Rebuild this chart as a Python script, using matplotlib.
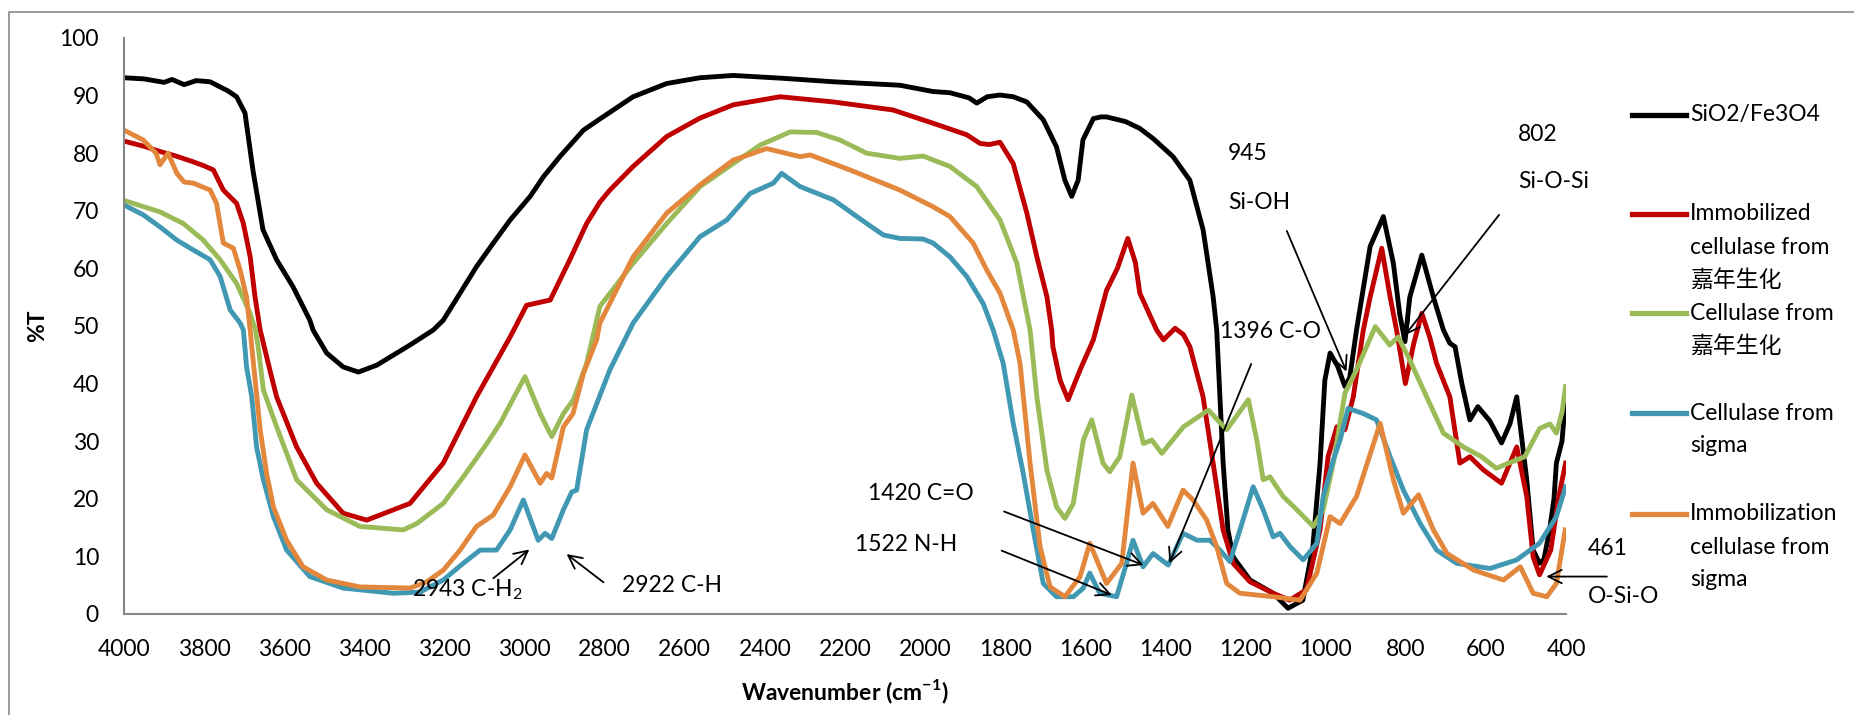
import matplotlib
matplotlib.use("Agg")
import matplotlib.pyplot as plt
from matplotlib.lines import Line2D
from matplotlib.patches import Rectangle

plt.rcParams['font.family'] = ['Lato', 'Noto Sans CJK SC', 'DejaVu Sans']
plt.rcParams['mathtext.fontset'] = 'custom'
plt.rcParams['mathtext.rm'] = 'Lato'
plt.rcParams['mathtext.bf'] = 'Lato:bold'

# ---- data (wavenumber cm-1, %T) ----
w_sio2 = [4000, 3950, 3900, 3880, 3850, 3820, 3785, 3760, 3740, 3719, 3698, 3678, 3653, 3619,
          3578, 3536, 3528, 3494, 3453, 3415, 3369, 3286, 3228, 3203, 3161, 3120, 3078, 3036,
          2986, 2953, 2912, 2853, 2800, 2729, 2645, 2562, 2479, 2354, 2229, 2063, 1980, 1938,
          1890, 1871, 1845, 1813, 1780, 1746, 1705, 1672, 1651, 1634, 1618, 1606, 1580, 1561,
          1547, 1500, 1464, 1430, 1381, 1339, 1306, 1281, 1272, 1264, 1256, 1244, 1231, 1189,
          1131, 1094, 1057, 1032, 1014, 1002, 989, 970, 952, 940, 923, 889, 856, 831, 815,
          802, 790, 760, 731, 706, 690, 677, 660, 640, 620, 590, 561, 540, 523, 498, 482, 466,
          455, 441, 430, 424, 410, 402]
t_sio2 = [93.1, 92.9, 92.3, 92.8, 91.9, 92.6, 92.4, 91.5, 90.8, 89.8, 87.0, 77.0, 66.7, 61.5,
          56.8, 51.0, 49.3, 45.3, 42.9, 42.0, 43.2, 46.7, 49.3, 51.0, 55.7, 60.3, 64.4, 68.4,
          72.5, 75.9, 79.4, 84.0, 86.5, 89.8, 92.1, 93.1, 93.5, 93.0, 92.4, 91.8, 90.7, 90.5,
          89.6, 88.7, 89.8, 90.1, 89.8, 88.9, 85.8, 81.1, 75.3, 72.5, 75.3, 82.3, 86.0, 86.3,
          86.3, 85.5, 84.3, 82.5, 79.4, 75.3, 66.7, 55.1, 49.3, 37.7, 26.2, 14.6, 9.9, 5.9,
          3.6, 1.0, 2.4, 11.7, 26.2, 40.6, 45.3, 43.0, 39.5, 41.0, 49.3, 63.8, 69.0, 60.9, 52.0,
          47.3, 55.0, 62.3, 55.0, 49.3, 47.0, 46.4, 40.0, 33.7, 36.0, 33.5, 29.7, 33.0, 37.7,
          23.3, 11.1, 8.8, 9.5, 14.6, 20.0, 26.2, 30.0, 36.6]

w_imm_jn = [4000, 3950, 3910, 3870, 3827, 3800, 3777, 3752, 3719, 3702, 3685, 3673, 3660, 3636,
            3619, 3569, 3519, 3453, 3394, 3286, 3203, 3120, 3036, 2995, 2936, 2887, 2845, 2812,
            2787, 2729, 2645, 2562, 2479, 2362, 2229, 2080, 1980, 1896, 1863, 1840, 1813, 1780,
            1746, 1721, 1696, 1684, 1681, 1663, 1643, 1613, 1580, 1547, 1520, 1494, 1475, 1464,
            1422, 1405, 1376, 1355, 1339, 1306, 1281, 1256, 1231, 1189, 1131, 1090, 1048, 1014,
            994, 972, 952, 931, 906, 889, 860, 839, 823, 801, 780, 760, 740, 723, 690, 665, 640,
            606, 561, 523, 498, 482, 466, 438, 418, 401]
t_imm_jn = [82.1, 81.2, 80.3, 79.5, 78.5, 77.8, 77.1, 73.6, 71.3, 67.8, 62.0, 55.1, 49.3, 42.4,
            37.7, 29.0, 22.7, 17.5, 16.3, 19.2, 26.2, 37.7, 48.1, 53.6, 54.5, 61.5, 67.8, 71.5,
            73.6, 77.7, 82.9, 86.1, 88.4, 89.8, 88.9, 87.5, 85.2, 83.2, 81.7, 81.5, 81.9, 78.2,
            69.6, 62.0, 55.1, 49.3, 46.4, 40.6, 37.2, 42.4, 47.6, 56.2, 60.0, 65.2, 61.0, 55.7,
            49.3, 47.6, 49.6, 48.5, 46.4, 37.7, 26.2, 14.6, 8.8, 5.6, 3.6, 2.4, 4.2, 14.6,
            27.3, 32.5, 32.0, 37.7, 49.3, 55.0, 63.5, 55.0, 49.3, 40.0, 47.0, 52.2, 48.0, 43.5,
            37.7, 26.2, 27.3, 25.0, 22.7, 29.0, 20.4, 9.9, 6.8, 11.1, 20.4, 26.2]

w_cel_jn = [4000, 3910, 3852, 3802, 3760, 3719, 3685, 3672, 3665, 3652, 3619, 3569, 3494, 3411,
            3303, 3269, 3203, 3153, 3094, 3061, 2999, 2961, 2932, 2903, 2878, 2845, 2812, 2729,
            2645, 2562, 2479, 2412, 2337, 2271, 2213, 2146, 2063, 2005, 1938, 1871, 1813, 1771,
            1738, 1721, 1696, 1672, 1651, 1630, 1605, 1584, 1556, 1539, 1514, 1484, 1455, 1434,
            1409, 1355, 1293, 1247, 1193, 1172, 1156, 1139, 1106, 1072, 1031, 1006, 981, 952,
            923, 876, 840, 819, 790, 748, 706, 656, 611, 574, 536, 503, 466, 440, 424, 410, 401]
t_cel_jn = [71.8, 69.8, 67.8, 64.9, 61.5, 57.4, 52.2, 49.3, 46.4, 38.9, 32.5, 23.3, 18.1, 15.2,
            14.6, 15.7, 19.2, 23.8, 29.6, 33.1, 41.2, 34.8, 30.8, 34.8, 37.2, 43.5, 53.4, 60.9,
            67.8, 74.2, 78.2, 81.4, 83.7, 83.6, 82.3, 80.0, 79.1, 79.5, 77.7, 74.2, 68.4, 60.9,
            49.3, 37.7, 25.0, 18.6, 16.6, 19.2, 30.2, 33.7, 26.2, 24.7, 27.3, 38.0, 29.6, 30.2,
            27.9, 32.5, 35.4, 32.0, 37.2, 30.2, 23.3, 23.8, 20.4, 18.1, 15.2, 18.1, 26.2, 38.3,
            42.4, 49.9, 46.7, 48.1, 44.1, 37.7, 31.4, 29.0, 27.3, 25.3, 26.4, 27.3, 32.2, 33.0,
            31.4, 35.0, 39.5]

w_cel_sg = [4000, 3952, 3910, 3868, 3827, 3785, 3760, 3735, 3710, 3702, 3694, 3681, 3669, 3652,
            3627, 3594, 3536, 3453, 3328, 3261, 3203, 3153, 3111, 3070, 3036, 3003, 2966, 2949,
            2932, 2903, 2882, 2870, 2845, 2787, 2729, 2645, 2562, 2495, 2437, 2379, 2358, 2312,
            2229, 2146, 2104, 2063, 2005, 1980, 1938, 1896, 1855, 1830, 1805, 1780, 1755, 1730,
            1705, 1672, 1630, 1605, 1589, 1564, 1522, 1497, 1481, 1456, 1431, 1393, 1356, 1321,
            1289, 1264, 1239, 1214, 1181, 1156, 1131, 1114, 1089, 1056, 1022, 1006, 981, 964,
            944, 906, 873, 839, 806, 764, 723, 673, 590, 523, 466, 424, 401]
t_cel_sg = [71.0, 69.3, 67.2, 64.9, 63.2, 61.5, 58.6, 52.8, 50.5, 49.3, 42.9, 37.7, 29.0, 23.3,
            16.9, 11.1, 6.5, 4.5, 3.6, 3.8, 5.9, 8.8, 11.1, 11.1, 14.6, 19.8, 12.8, 14.0,
            13.1, 18.1, 21.2, 21.5, 32.0, 42.4, 50.5, 58.6, 65.5, 68.4, 73.0, 74.8, 76.5, 74.2,
            71.9, 67.8, 65.8, 65.2, 65.1, 64.4, 62.0, 58.6, 53.9, 49.3, 43.5, 33.1, 24.4, 14.6,
            5.3, 3.0, 3.0, 4.5, 7.1, 3.6, 3.0, 8.8, 12.8, 8.2, 10.5, 8.5, 14.0, 12.8,
            12.8, 11.1, 9.1, 14.6, 22.1, 18.1, 13.4, 14.0, 11.7, 9.4, 12.3, 20.4, 26.7, 30.2,
            35.7, 34.8, 33.7, 27.3, 21.5, 15.7, 11.1, 8.8, 7.9, 9.4, 12.3, 16.9, 22.1]

w_imm_sg = [4000, 3952, 3920, 3910, 3890, 3868, 3850, 3827, 3785, 3769, 3752, 3727, 3710, 3694,
            3685, 3681, 3660, 3644, 3627, 3594, 3553, 3494, 3411, 3286, 3244, 3203, 3161, 3120,
            3078, 3036, 2999, 2961, 2945, 2932, 2903, 2879, 2853, 2820, 2812, 2729, 2645, 2562,
            2479, 2396, 2312, 2287, 2188, 2063, 1980, 1938, 1880, 1846, 1813, 1780, 1763, 1738,
            1713, 1688, 1651, 1613, 1589, 1547, 1509, 1481, 1456, 1431, 1394, 1356, 1331, 1297,
            1272, 1247, 1214, 1131, 1064, 1022, 989, 964, 923, 864, 831, 806, 768, 731, 697,
            630, 556, 514, 482, 448, 424, 402]
t_imm_sg = [84.0, 82.3, 80.0, 78.0, 80.0, 76.5, 75.0, 74.8, 73.6, 71.3, 64.4, 63.5, 59.7, 55.0,
            49.3, 46.4, 32.0, 24.4, 18.6, 12.8, 8.2, 5.9, 4.7, 4.5, 5.6, 7.6, 11.1, 15.2,
            17.2, 22.1, 27.6, 22.7, 24.4, 23.6, 32.5, 34.8, 41.8, 47.6, 50.5, 62.0, 69.6, 74.5,
            78.8, 80.8, 79.4, 79.7, 77.1, 73.6, 70.7, 69.0, 64.4, 59.7, 55.7, 49.3, 43.5, 26.2,
            11.7, 4.7, 3.0, 6.5, 12.3, 5.3, 8.8, 26.2, 17.5, 19.2, 15.2, 21.5, 19.8, 16.3,
            11.7, 5.3, 3.6, 3.0, 2.4, 7.1, 16.9, 15.7, 20.4, 33.1, 23.3, 17.5, 20.7, 14.6, 10.5,
            7.6, 5.9, 8.2, 3.6, 3.0, 5.3, 14.6]

series = [
    (w_sio2, t_sio2, "SiO2/Fe3O4", "#000000"),
    (w_imm_jn, t_imm_jn, "Immobilized\ncellulase from\n嘉年生化", "#C00000"),
    (w_cel_jn, t_cel_jn, "Cellulase from\n嘉年生化", "#9BBB59"),
    (w_cel_sg, t_cel_sg, "Cellulase from\nsigma", "#4198B3"),
    (w_imm_sg, t_imm_sg, "Immobilization\ncellulase from\nsigma", "#E2873B"),
]

# peak labels: (text, x, y) and arrows: (head, tail)
peak_texts = [
    ("945", 1244, 79.9), ("Si-OH", 1244, 71.5),
    ("802", 520, 83.3), ("Si-O-Si", 520, 75.1),
    ("1396 C-O", 1265, 49.0),
    ("1420 C=O", 2143, 21.0),
    ("1522 N-H", 2175, 12.0),
    ("2943 C-H$_\\mathregular{2}$", 3282, 4.2),
    ("2922 C-H", 2757, 5.0),
    ("461", 345, 11.3), ("O-Si-O", 345, 3.0),
]
peak_arrows = [
    ((948, 42.1), (1097, 66.5)),
    ((802, 48.4), (567, 69.3)),
    ((1390, 8.8), (1186, 43.4)),
    ((1455, 8.5), (1803, 17.8)),
    ((1534, 3.3), (1809, 11.0)),
    ((2988, 11.2), (3078, 6.2)),
    ((2895, 10.4), (2803, 5.5)),
    ((449, 6.5), (298, 6.5)),
]

W, H = 1854, 715
fig = plt.figure(figsize=(W / 100, H / 100), dpi=100)
ax = fig.add_axes([124 / W, 1 - 614 / H, (1566 - 124) / W, (614 - 38) / H])

for w, t, label, color in series:
    ax.plot(w, t, color=color, lw=3.5, solid_joinstyle='round')

ax.set_xlim(4000, 400)
ax.set_ylim(0, 100)
ax.set_xticks(range(4000, 399, -200))
ax.set_yticks(range(0, 101, 10))
ax.tick_params(length=0, labelsize=16.5, pad=18)
for s in ['top', 'right']:
    ax.spines[s].set_visible(False)
for s in ['left', 'bottom']:
    ax.spines[s].set_color('#878787')
    ax.spines[s].set_linewidth(1.5)

ax.set_xlabel("Wavenumber (cm$^{\\mathbf{-1}}$)", fontsize=16.5, fontweight='bold', labelpad=13)
ax.set_ylabel("%T", fontsize=16.5, fontweight='bold', labelpad=8)

for txt, x, y in peak_texts:
    ax.text(x, y, txt, fontsize=16.5, ha='left', va='center', clip_on=False)
for head, tail in peak_arrows:
    ax.annotate('', xy=head, xytext=tail, annotation_clip=False,
                arrowprops=dict(arrowstyle='->', color='black', lw=1.3, mutation_scale=24,
                                shrinkA=0, shrinkB=0))

# legend drawn by hand so the line sits at the first text line
leg_y = [115, 214, 313, 413, 514]
for (w, t, label, color), y0 in zip(series, leg_y):
    fig.add_artist(Line2D([1632 / W, 1686 / W], [1 - y0 / H, 1 - y0 / H],
                          transform=fig.transFigure, color=color, lw=3.8))
    for i, line in enumerate(label.split("\n")):
        fig.text(1690 / W, 1 - (y0 + i * 33) / H, line, fontsize=16.5, va='center', ha='left')

fig.add_artist(Rectangle((9 / W, -0.1), 1.2, 1 - 12 / H + 0.1, transform=fig.transFigure,
                         fill=False, edgecolor='#8a8a8a', lw=1.2))

fig.savefig("out.png", dpi=100)
